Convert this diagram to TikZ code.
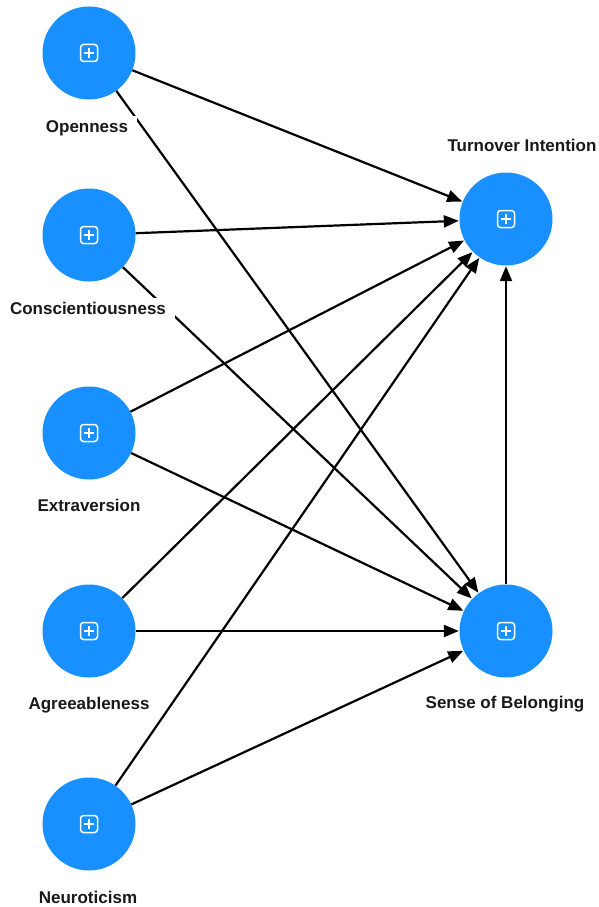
\documentclass[tikz,border=0pt]{standalone}
\usepackage{fontspec}
\setmainfont{Liberation Sans}
\usetikzlibrary{arrows.meta,calc}
\definecolor{lvblue}{RGB}{24,144,255}
\definecolor{lbltext}{RGB}{25,25,25}
\tikzset{
  lv/.style={circle, fill=lvblue, draw=none, minimum size=93pt, inner sep=0pt},
  lbl/.style={fill=white, text=lbltext, font=\fontsize{17}{19}\selectfont\bfseries, inner xsep=9pt, inner ysep=4pt},
  path/.style={draw=black, line width=2.2pt, -{Triangle[length=15pt,width=12pt]}, shorten >=0.5pt},
  icon/.style={draw=white, line width=1.5pt, rounded corners=3pt}
}
\newcommand{\plusicon}[1]{%
  \draw[icon] ($(#1)+(-8.5,-8.5)$) rectangle ($(#1)+(8.5,8.5)$);
  \draw[white, line width=1.5pt] ($(#1)+(-5,0)$) -- ($(#1)+(5,0)$);
  \draw[white, line width=1.5pt] ($(#1)+(0,-5)$) -- ($(#1)+(0,5)$);
}
\begin{document}
\begin{tikzpicture}[x=1pt,y=-1pt]
\useasboundingbox (0,0) rectangle (599,907);
\node[lv] (O) at (89,53) {};
\node[lv] (C) at (89,235) {};
\node[lv] (E) at (89,433) {};
\node[lv] (A) at (89,631) {};
\node[lv] (N) at (89,824) {};
\node[lv] (T) at (506,219) {};
\node[lv] (S) at (506,631) {};
\foreach \n in {O,C,E,A,N,T,S} {\plusicon{\n}}
\foreach \n in {O,C,E,A,N} {
  \draw[path] (\n) -- (T);
  \draw[path] (\n) -- (S);
}
\draw[path] (S) -- (T);
\node[lbl] (lO) at (87,128) {Openness};
\node[lbl] (lC) at (88,308) {Conscientiousness};
\node[lbl] (lE) at (89,505) {Extraversion};
\node[lbl] (lA) at (89,705) {Agreeableness};
\node[lbl] (lN) at (88,897) {Neuroticism};
\node[lbl] (lT) at (522,145) {Turnover Intention};
\node[lbl] (lS) at (505,704) {Sense of Belonging};
\end{tikzpicture}
\end{document}
